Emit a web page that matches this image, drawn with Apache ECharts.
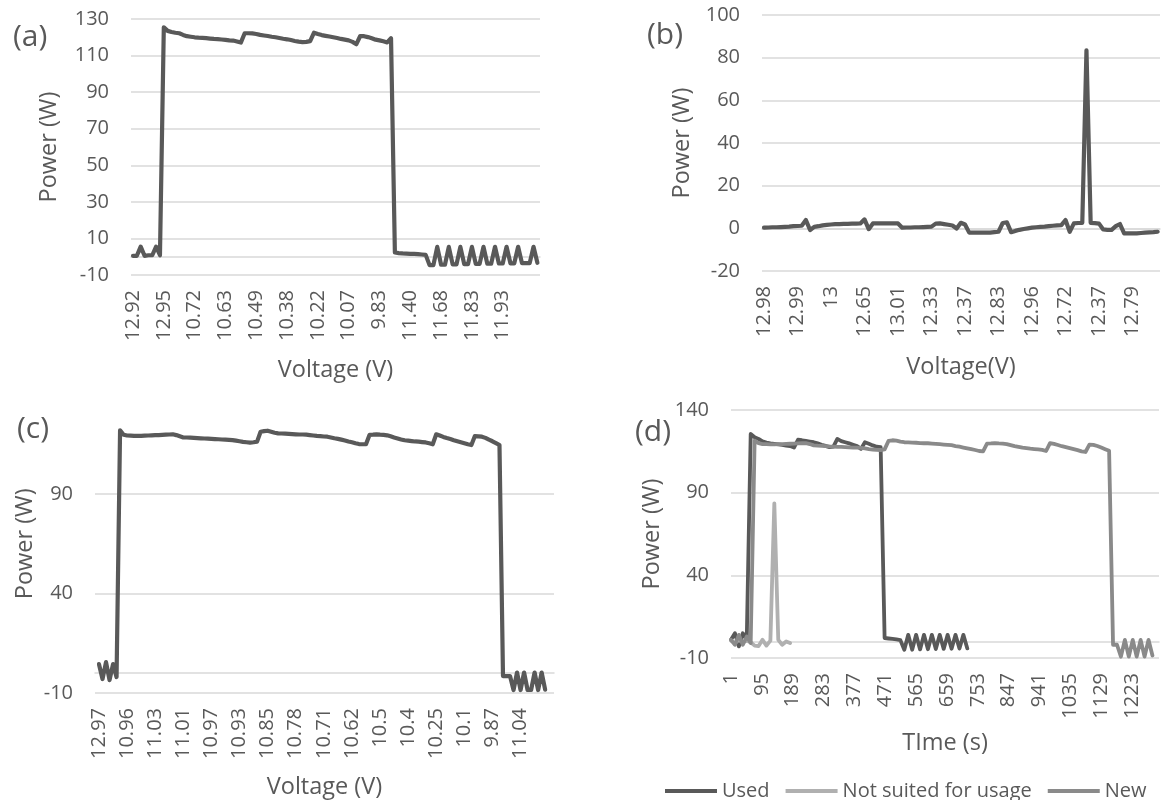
<!DOCTYPE html>
<html><head><meta charset="utf-8">
<script src="https://cdn.jsdelivr.net/npm/echarts@6/dist/echarts.min.js"></script>
<style>html,body{margin:0;padding:0;background:#fff}#c{width:1171px;height:800px}</style>
</head><body><div id="c"></div>
<script>
// ---------- DATA ----------
// (a) Voltage tick labels and power samples (8 samples per labelled category step)
const aTicks = ['12.92','12.95','10.72','10.63','10.49','10.38','10.22','10.07','9.83','11.40','11.68','11.83','11.93'];
const aPower = [0.5,0.5,5.5,0.5,0.8,0.8,5.5,0.8,
 125.5,123.5,122.9,122.5,122.2,121.3,120.6,120.3,120.0,119.8,119.7,119.5,119.3,119.1,119.0,118.8,118.6,118.3,118.2,117.7,117.1,
 122.2,122.2,122.1,121.8,121.3,121.0,120.7,120.3,120.0,119.6,119.2,118.9,118.5,118.0,117.6,117.4,117.5,117.9,
 122.5,121.8,121.2,120.8,120.4,120.0,119.6,119.1,118.7,118.3,117.5,116.2,
 120.7,120.6,120.1,119.5,118.7,118.3,117.8,117.2,119.5,
 2.3,2.0,1.8,1.7,1.6,1.5,1.4,1.2,1.0,
 -4.6,-4.6,5.4,-4.4,-4.4,5.4,-4.2,-4.2,5.4,-4.0,-4.0,5.4,-3.9,-3.9,5.4,-3.8,-3.8,5.4,-3.7,-3.7,5.4,-3.6,-3.6,5.4,-3.5,-3.5,-3.5,5.4,-3.3];

// (b)
const bTicks = ['12.98','12.99','13','12.65','13.01','12.33','12.37','12.83','12.96','12.72','12.37','12.79'];
const bPower = [0.3,0.4,0.5,0.5,0.6,0.7,0.8,1.0,1.1,1.2,3.9,-0.8,0.7,1.0,1.4,1.6,1.8,2.0,2.0,2.1,2.1,2.2,2.2,2.3,4.2,-0.4,
 2.3,2.3,2.3,2.3,2.3,2.3,2.3,0.3,0.4,0.4,0.5,0.5,0.6,0.7,0.8,2.2,2.3,2.0,1.7,1.3,-0.1,2.6,1.8,
 -2.0,-2.0,-2.0,-2.0,-2.0,-2.0,-1.8,-1.6,2.5,2.8,-1.8,-1.2,-0.7,-0.3,0.0,0.3,0.5,0.7,0.8,1.0,1.2,1.4,1.5,3.9,-1.6,
 2.3,2.5,2.6,83.4,2.6,2.4,2.2,-0.5,-0.7,-0.7,1.0,2.0,-2.4,-2.4,-2.4,-2.4,-2.2,-2.0,-1.9,-1.8,-1.6];

// (c)
const cTicks = ['12.97','10.96','11.03','11.01','10.97','10.93','10.85','10.78','10.71','10.62','10.5','10.4','10.25','10.1','9.87','11.04'];
const cPower = [4.5,-3,5.5,-3.5,4.5,-2,
 122.0,119.8,119.4,119.3,119.2,119.2,119.2,119.3,119.4,119.5,119.6,119.6,119.7,119.8,119.9,120.0,
 119.6,119.0,118.4,118.4,118.3,118.2,118.1,118.0,117.9,117.8,117.7,117.6,117.5,117.4,117.3,117.2,117.1,116.8,116.5,116.2,116.0,115.8,116.0,116.3,
 121.3,121.6,121.8,121.3,120.8,120.5,120.4,120.3,120.2,120.1,120.0,119.9,119.9,119.8,119.6,119.4,119.2,119.1,118.9,118.8,118.4,118.0,117.7,117.3,116.9,116.4,116.0,115.5,115.1,115.0,115.0,
 119.7,119.8,120.0,119.8,119.7,119.5,119.0,118.4,117.9,117.4,117.0,116.8,116.6,116.4,116.3,116.1,115.9,115.5,115.0,
 120.0,119.4,118.7,118.1,117.6,117.0,116.5,116.0,115.5,115.0,114.6,
 119.1,119.0,118.8,118.2,117.3,116.5,115.6,114.6,
 -1.5,-1.5,-1.5,-8.5,0.3,-8.5,0.3,-8.5,-8.5,0.3,-8.5,0.3,-8.3];

// (d) Time tick labels (s) and samples every 12 s starting at t = 1
const dTicks = [1,95,189,283,377,471,565,659,753,847,941,1035,1129,1223];
const seriesNames = ['Used','Not suited for usage','New'];
const dUsed = [1.0,5.0,-3.0,5.0,1.0,
 125.5,123.5,122.5,121.0,120.3,119.8,119.5,119.2,118.9,118.5,118.2,117.3,
 122.0,121.7,121.3,120.9,120.5,119.8,119.0,118.3,117.5,117.8,
 122.5,121.2,120.5,119.8,119.0,118.2,116.5,
 120.5,119.6,118.6,117.8,117.5,
 2.1,1.8,1.5,1.2,0.8,
 -5.0,4.0,-5.0,4.0,-4.8,4.0,-4.7,4.0,-4.6,4.0,-4.5,4.0,-4.4,4.0,-4.3,4.0,-4.2];
const dNotSuited = [0.5,-1.0,1.0,-0.5,0.5,-0.5,-2.5,-2.8,1.0,-2.5,0.5,83.5,1.0,-2.0,0.0,-1.0];
const dNew = [1.0,-2.0,4.0,-2.0,3.0,-1.0,
 121.5,120.0,119.4,119.3,119.2,119.2,119.3,119.4,119.5,119.6,119.7,119.8,119.9,119.9,
 119.4,118.6,118.4,118.3,118.2,118.0,117.9,117.7,117.7,117.6,117.4,117.3,117.2,117.1,116.8,116.4,116.1,115.9,115.8,116.2,
 121.3,121.7,121.5,120.9,120.5,120.4,120.3,120.2,120.0,119.9,119.9,119.7,119.5,119.3,119.1,118.9,118.7,118.2,117.8,117.3,116.8,116.3,115.8,115.2,115.0,
 119.7,119.8,120.0,119.8,119.7,119.4,118.8,118.2,117.7,117.2,116.9,116.6,116.4,116.2,115.9,115.2,
 120.0,119.5,118.8,118.1,117.5,116.9,116.3,115.7,115.0,114.6,
 119.1,118.9,118.2,117.3,116.3,115.3,
 -2.0,-2.0,-9.2,1.0,-9.2,1.0,-9.2,1.0,-9.2,1.0,-8.5];

const panelLabels = ['(a)','(b)','(c)','(d)'];

// ---------- STYLE ----------
const FONT = "'Open Sans', sans-serif";
const TXT = '#595959';
const GRIDC = '#d9d9d9';
const SUB = 1/8;      // samples per category step in (a)-(c)
const DSTEP = 12;     // seconds between samples in (d)
const toPairs = (arr, step, start) => arr.map((v, i) => [start + i * step, v]);

const grids = [
  {left:131, top:19, width:409, height:256},
  {left:762, top:15, width:398, height:256},
  {left:95, top:394.5, width:459, height:298.5},
  {left:731, top:410, width:428, height:248}
];
const xRanges = [[-0.065, 13.21], [-0.06, 11.82], [-0.142, 16.19], [1, 1305]];

function labX(g, ticks, name, gap) {
  return {type:'value', gridIndex:g, min:xRanges[g][0], max:xRanges[g][1], name, nameLocation:'middle', nameGap:gap,
    nameTextStyle:{fontFamily:FONT, fontSize:23.5, color:TXT},
    axisLine:{show:false, onZero:false}, axisTick:{show:false}, splitLine:{show:false},
    axisLabel:{customValues: ticks.map((_, i) => i), formatter: v => { const k = Math.round(Number(v)); return ticks[k] !== undefined ? String(ticks[k]) : ''; },
      rotate:90, margin:15, fontFamily:FONT, fontSize:20, color:TXT}};
}
function timeX(g, ticks, name, gap) {
  return {type:'value', gridIndex:g, min:xRanges[g][0], max:xRanges[g][1], name, nameLocation:'middle', nameGap:gap,
    nameTextStyle:{fontFamily:FONT, fontSize:23.5, color:TXT},
    axisLine:{show:false, onZero:false}, axisTick:{show:false}, splitLine:{show:false},
    axisLabel:{customValues: ticks, formatter: v => String(v), rotate:90, margin:15, fontFamily:FONT, fontSize:20, color:TXT}};
}
// Excel-style horizontal axis line crossing at 0 (drawn beneath the series)
function zeroX(g) {
  return {type:'value', gridIndex:g, min:xRanges[g][0], max:xRanges[g][1],
    axisLine:{show:true, onZero:true, lineStyle:{color:GRIDC, width:1.5}},
    axisTick:{show:false}, axisLabel:{show:false}, splitLine:{show:false}};
}
function yAx(g, min, max, interval, gap, hideMax) {
  return {type:'value', gridIndex:g, min, max, interval, name:'Power (W)', nameLocation:'middle', nameGap:gap, nameRotate:90,
    nameTextStyle:{fontFamily:FONT, fontSize:23.5, color:TXT},
    axisLine:{show:false}, axisTick:{show:false},
    axisLabel:{margin:22, fontFamily:FONT, fontSize:20, color:TXT, showMaxLabel: !hideMax},
    splitLine:{lineStyle:{color:GRIDC, width:1.5}, showMaxLine: !hideMax}};
}
function line(name, xi, yi, data, color, width) {
  return {type:'line', name, xAxisIndex:xi, yAxisIndex:yi, data, symbol:'none', showSymbol:false,
    lineStyle:{color, width, join:'round', cap:'round'}, itemStyle:{color}, animation:false, z:3};
}

const chart = echarts.init(document.getElementById('c'));
chart.setOption({
  backgroundColor:'#ffffff', animation:false,
  title: panelLabels.map((t, i) => ({text:t, padding:0,
    left:[13, 647, 17, 635][i], top:[22, 20, 414, 417][i],
    textStyle:{fontFamily:FONT, fontSize:30, fontWeight:'normal', color:TXT}})),
  grid: grids,
  xAxis: [
    labX(0, aTicks, 'Voltage (V)', 83), labX(1, bTicks, 'Voltage(V)', 84),
    labX(2, cTicks, 'Voltage (V)', 82), timeX(3, dTicks, 'TIme (s)', 73),
    zeroX(0), zeroX(1), zeroX(2), zeroX(3)
  ],
  yAxis: [
    yAx(0, -10, 130, 20, 70, false), yAx(1, -20, 100, 20, 68, false),
    yAx(2, -10, 140, 50, 58, true), yAx(3, -10, 140, 50, 67, false)
  ],
  legend: {data: seriesNames, left:660, top:776, icon:'rect', itemWidth:52, itemHeight:4, itemGap:16,
    selectedMode:false, textStyle:{fontFamily:FONT, fontSize:20, color:TXT}},
  series: [
    line('a', 0, 0, toPairs(aPower, SUB, 0), '#595959', 4.2),
    line('b', 1, 1, toPairs(bPower, SUB, 0), '#595959', 4.2),
    line('c', 2, 2, toPairs(cPower, SUB, 0), '#595959', 4.2),
    line(seriesNames[0], 3, 3, toPairs(dUsed, DSTEP, 1), '#595959', 3.8),
    line(seriesNames[1], 3, 3, toPairs(dNotSuited, DSTEP, 1), '#b0b0b0', 3.8),
    line(seriesNames[2], 3, 3, toPairs(dNew, DSTEP, 1), '#8a8a8a', 3.8)
  ]
});
</script></body></html>
